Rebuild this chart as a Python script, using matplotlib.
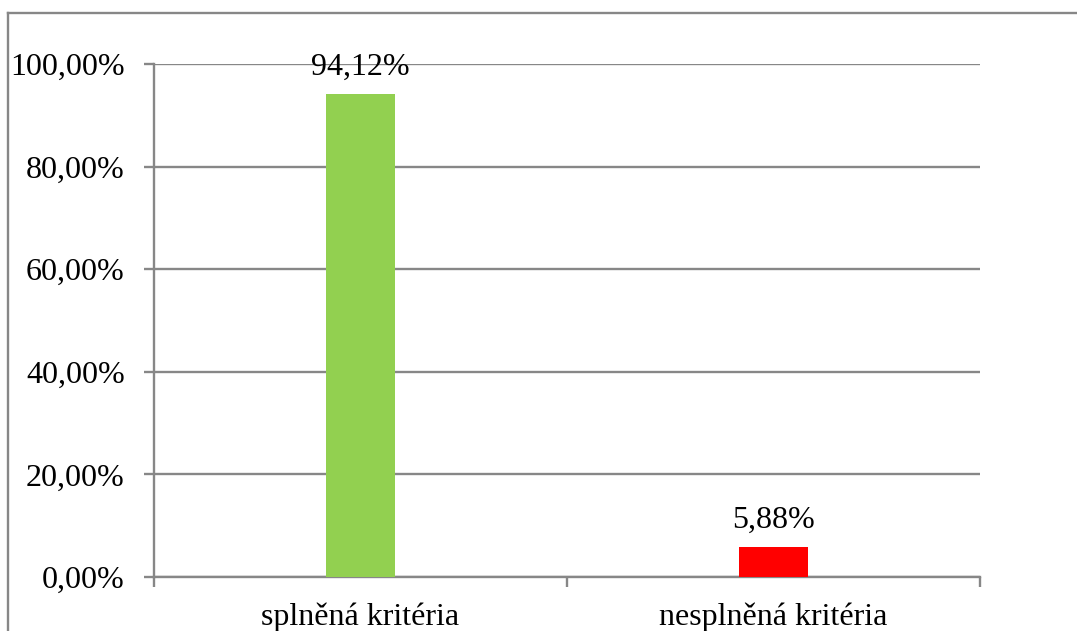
import matplotlib.pyplot as plt
from matplotlib.lines import Line2D
from matplotlib.ticker import FuncFormatter

categories = ['splněná kritéria', 'nesplněná kritéria']
values = [94.12, 5.88]
colors = ['#92D050', '#FF0000']
yticks = [0, 20, 40, 60, 80, 100]

plt.rcParams['font.family'] = ['Liberation Serif', 'DejaVu Serif']

W, H = 1077, 631
fig = plt.figure(figsize=(W / 100, H / 100), dpi=100)
ax = fig.add_axes([154 / W, 1 - 577 / H, (980 - 154) / W, (577 - 64) / H])

grey = '#878787'
x = range(len(categories))
ax.bar(x, values, width=0.167, color=colors, zorder=3)
ax.set_xlim(-0.5, 1.5)
ax.set_ylim(0, 100)

fmt = lambda v, p: ('%.2f%%' % v).replace('.', ',')
ax.set_yticks(yticks)
ax.yaxis.set_major_formatter(FuncFormatter(fmt))
ax.grid(axis='y', color=grey, linewidth=1.7, zorder=0)

ax.set_xticks([-0.5, 0.5, 1.5])
ax.set_xticklabels([])
ax.set_xticks(list(x), minor=True)
ax.set_xticklabels(categories, minor=True)
ax.tick_params(axis='x', which='minor', length=0, labelsize=23, pad=18)
ax.tick_params(axis='x', which='major', length=7, width=1.7, color=grey)
ax.tick_params(axis='y', length=7, width=1.7, color=grey, labelsize=23, pad=14)

for s in ['top', 'right']:
    ax.spines[s].set_visible(False)
for s in ['left', 'bottom']:
    ax.spines[s].set_color(grey)
    ax.spines[s].set_linewidth(1.7)

for xi, v in zip(x, values):
    ax.annotate(fmt(v, None), (xi, v), xytext=(0, 9), textcoords='offset points',
                ha='center', va='bottom', fontsize=23)

# outer chart frame
fig.add_artist(Line2D([8 / W, 8 / W], [0, 1 - 13 / H], transform=fig.transFigure,
                      color=grey, linewidth=1.7))
fig.add_artist(Line2D([8 / W, 1], [1 - 13 / H, 1 - 13 / H], transform=fig.transFigure,
                      color=grey, linewidth=1.7))

fig.savefig('out.png', dpi=100)
